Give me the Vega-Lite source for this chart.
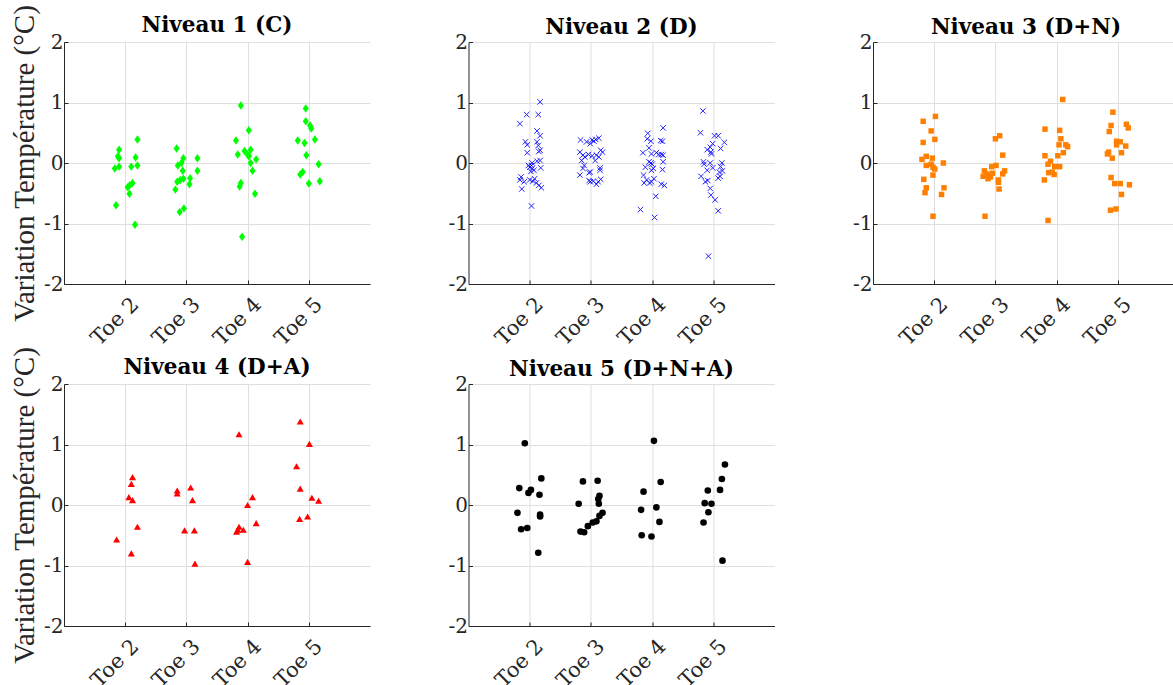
{
  "$schema": "https://vega.github.io/schema/vega-lite/v6.json",
  "padding": {"left": 10, "top": 4, "right": 0, "bottom": 0},
  "background": "white",
  "datasets": {
    "p1": [
      {"x":1.90,"y":0.22},{"x":1.88,"y":0.11},{"x":1.90,"y":0.08},{"x":1.90,"y":-0.06},{"x":1.83,"y":-0.09},{"x":2.20,"y":0.39},{"x":2.17,"y":0.09},{"x":2.10,"y":-0.06},{"x":2.20,"y":-0.04},{"x":2.12,"y":-0.33},{"x":2.07,"y":-0.37},{"x":2.04,"y":-0.40},{"x":2.07,"y":-0.51},{"x":1.85,"y":-0.70},{"x":2.16,"y":-1.02},
      {"x":2.84,"y":0.24},{"x":2.95,"y":0.08},{"x":2.92,"y":0.0},{"x":2.86,"y":-0.04},{"x":2.94,"y":-0.13},{"x":2.90,"y":-0.28},{"x":2.85,"y":-0.31},{"x":2.95,"y":-0.26},{"x":2.82,"y":-0.44},{"x":3.18,"y":0.08},{"x":3.18,"y":-0.13},{"x":3.06,"y":-0.25},{"x":3.05,"y":-0.35},{"x":2.96,"y":-0.75},{"x":2.89,"y":-0.81},
      {"x":3.89,"y":0.95},{"x":4.02,"y":0.54},{"x":3.81,"y":0.37},{"x":3.84,"y":0.14},{"x":3.95,"y":0.20},{"x":4.00,"y":0.14},{"x":4.05,"y":0.22},{"x":4.02,"y":0.11},{"x":4.14,"y":0.06},{"x":4.05,"y":0.0},{"x":4.08,"y":-0.13},{"x":3.89,"y":-0.33},{"x":3.87,"y":-0.39},{"x":4.12,"y":-0.51},{"x":3.91,"y":-1.22},
      {"x":4.95,"y":0.90},{"x":4.95,"y":0.69},{"x":5.02,"y":0.62},{"x":5.04,"y":0.57},{"x":4.82,"y":0.37},{"x":4.93,"y":0.33},{"x":5.10,"y":0.39},{"x":4.96,"y":0.13},{"x":5.16,"y":-0.02},{"x":4.90,"y":-0.15},{"x":4.86,"y":-0.19},{"x":5.00,"y":-0.34},{"x":5.18,"y":-0.30}
    ],
    "p2": [
      {"x":2.17,"y":1.01},{"x":1.95,"y":0.80},{"x":2.14,"y":0.80},{"x":1.84,"y":0.65},{"x":2.12,"y":0.53},{"x":2.17,"y":0.45},{"x":1.93,"y":0.35},{"x":1.96,"y":0.30},{"x":2.12,"y":0.35},{"x":2.14,"y":0.29},{"x":2.17,"y":0.21},{"x":2.15,"y":0.19},{"x":1.96,"y":0.17},{"x":2.17,"y":0.04},{"x":2.12,"y":0.03},{"x":2.04,"y":0.0},{"x":2.03,"y":-0.04},{"x":2.00,"y":-0.07},{"x":2.07,"y":-0.12},{"x":2.18,"y":-0.08},{"x":2.02,"y":-0.14},{"x":2.04,"y":-0.09},{"x":1.86,"y":-0.23},{"x":1.84,"y":-0.28},{"x":1.91,"y":-0.31},{"x":2.00,"y":-0.28},{"x":2.05,"y":-0.30},{"x":2.11,"y":-0.33},{"x":2.15,"y":-0.37},{"x":2.19,"y":-0.41},{"x":1.87,"y":-0.43},{"x":2.03,"y":-0.71},{"x":2.08,"y":-0.26},{"x":1.98,"y":-0.04},
      {"x":2.83,"y":0.38},{"x":2.93,"y":0.35},{"x":3.02,"y":0.38},{"x":3.08,"y":0.39},{"x":3.13,"y":0.41},{"x":2.99,"y":0.32},{"x":3.05,"y":0.36},{"x":2.82,"y":0.18},{"x":2.87,"y":0.13},{"x":2.90,"y":0.10},{"x":2.96,"y":0.14},{"x":3.02,"y":0.12},{"x":3.09,"y":0.13},{"x":3.16,"y":0.21},{"x":3.19,"y":0.18},{"x":3.13,"y":0.10},{"x":2.85,"y":0.04},{"x":2.89,"y":-0.04},{"x":3.07,"y":0.04},{"x":2.87,"y":-0.09},{"x":3.15,"y":-0.08},{"x":3.15,"y":-0.12},{"x":2.82,"y":-0.20},{"x":2.99,"y":-0.15},{"x":2.97,"y":-0.16},{"x":2.99,"y":-0.31},{"x":3.04,"y":-0.30},{"x":3.12,"y":-0.31},{"x":3.16,"y":-0.27},{"x":3.09,"y":-0.35},{"x":2.97,"y":-0.29},
      {"x":4.18,"y":0.58},{"x":3.93,"y":0.49},{"x":3.92,"y":0.40},{"x":3.98,"y":0.36},{"x":4.14,"y":0.37},{"x":4.17,"y":0.36},{"x":3.95,"y":0.25},{"x":3.85,"y":0.17},{"x":3.99,"y":0.15},{"x":4.07,"y":0.17},{"x":4.11,"y":0.14},{"x":4.15,"y":0.14},{"x":4.18,"y":0.13},{"x":4.18,"y":0.02},{"x":3.95,"y":0.02},{"x":3.98,"y":0.0},{"x":4.00,"y":-0.02},{"x":3.89,"y":-0.07},{"x":4.02,"y":-0.09},{"x":3.99,"y":-0.12},{"x":4.17,"y":-0.11},{"x":3.86,"y":-0.20},{"x":4.03,"y":-0.26},{"x":3.91,"y":-0.28},{"x":3.96,"y":-0.33},{"x":3.87,"y":-0.33},{"x":3.99,"y":-0.31},{"x":4.15,"y":-0.35},{"x":4.20,"y":-0.37},{"x":4.06,"y":-0.55},{"x":3.81,"y":-0.77},{"x":4.04,"y":-0.90},
      {"x":4.83,"y":0.86},{"x":4.79,"y":0.50},{"x":5.02,"y":0.45},{"x":5.08,"y":0.45},{"x":5.18,"y":0.34},{"x":4.99,"y":0.32},{"x":4.95,"y":0.26},{"x":4.90,"y":0.22},{"x":4.96,"y":0.18},{"x":5.12,"y":0.24},{"x":4.97,"y":0.15},{"x":4.84,"y":0.02},{"x":4.85,"y":-0.02},{"x":4.95,"y":0.0},{"x":5.14,"y":0.0},{"x":5.12,"y":-0.06},{"x":4.99,"y":-0.08},{"x":4.90,"y":-0.12},{"x":5.10,"y":-0.15},{"x":5.15,"y":-0.13},{"x":4.80,"y":-0.22},{"x":4.91,"y":-0.29},{"x":4.87,"y":-0.31},{"x":5.11,"y":-0.22},{"x":5.08,"y":-0.25},{"x":4.95,"y":-0.42},{"x":4.96,"y":-0.53},{"x":5.03,"y":-0.61},{"x":5.08,"y":-0.79},{"x":4.92,"y":-1.54}
    ],
    "p3": [
      {"x":2.02,"y":0.77},{"x":1.82,"y":0.69},{"x":1.95,"y":0.53},{"x":2.01,"y":0.39},{"x":1.82,"y":0.34},{"x":1.87,"y":0.11},{"x":1.80,"y":0.06},{"x":1.97,"y":0.08},{"x":1.87,"y":-0.04},{"x":1.95,"y":-0.02},{"x":1.98,"y":-0.07},{"x":2.01,"y":-0.10},{"x":2.15,"y":0.0},{"x":1.98,"y":-0.20},{"x":1.83,"y":-0.27},{"x":1.87,"y":-0.41},{"x":1.85,"y":-0.49},{"x":2.16,"y":-0.41},{"x":2.12,"y":-0.52},{"x":1.98,"y":-0.88},
      {"x":3.07,"y":0.45},{"x":3.00,"y":0.40},{"x":3.12,"y":0.13},{"x":2.94,"y":-0.06},{"x":3.01,"y":-0.04},{"x":3.15,"y":-0.13},{"x":3.12,"y":-0.18},{"x":2.82,"y":-0.13},{"x":2.86,"y":-0.18},{"x":2.90,"y":-0.21},{"x":2.80,"y":-0.22},{"x":2.95,"y":-0.17},{"x":2.88,"y":-0.26},{"x":3.05,"y":-0.28},{"x":3.05,"y":-0.32},{"x":3.06,"y":-0.43},{"x":2.83,"y":-0.88},{"x":2.92,"y":-0.23},
      {"x":4.10,"y":1.05},{"x":3.81,"y":0.56},{"x":4.05,"y":0.54},{"x":4.07,"y":0.40},{"x":4.04,"y":0.30},{"x":4.15,"y":0.30},{"x":4.18,"y":0.27},{"x":4.11,"y":0.17},{"x":3.81,"y":0.12},{"x":4.02,"y":0.12},{"x":3.90,"y":0.03},{"x":3.86,"y":-0.02},{"x":3.97,"y":-0.06},{"x":4.05,"y":-0.06},{"x":3.87,"y":-0.16},{"x":3.93,"y":-0.15},{"x":3.96,"y":-0.19},{"x":3.80,"y":-0.28},{"x":3.86,"y":-0.95},
      {"x":4.92,"y":0.84},{"x":5.14,"y":0.64},{"x":5.17,"y":0.58},{"x":4.89,"y":0.62},{"x":4.86,"y":0.52},{"x":4.98,"y":0.36},{"x":5.04,"y":0.35},{"x":4.98,"y":0.30},{"x":5.13,"y":0.28},{"x":4.83,"y":0.15},{"x":4.85,"y":0.18},{"x":5.06,"y":0.17},{"x":4.91,"y":0.08},{"x":4.89,"y":-0.24},{"x":4.95,"y":-0.34},{"x":5.04,"y":-0.34},{"x":5.19,"y":-0.36},{"x":5.06,"y":-0.52},{"x":4.88,"y":-0.78},{"x":4.97,"y":-0.76}
    ],
    "p4": [
      {"x":2.12,"y":0.46},{"x":2.10,"y":0.35},{"x":2.06,"y":0.13},{"x":2.12,"y":0.08},{"x":2.20,"y":-0.36},{"x":1.86,"y":-0.57},{"x":2.10,"y":-0.80},
      {"x":2.85,"y":0.24},{"x":2.85,"y":0.19},{"x":3.07,"y":0.29},{"x":3.10,"y":0.08},{"x":2.97,"y":-0.42},{"x":3.13,"y":-0.42},{"x":3.14,"y":-0.97},
      {"x":3.86,"y":1.17},{"x":4.08,"y":0.13},{"x":4.00,"y":0.0},{"x":4.14,"y":-0.30},{"x":3.86,"y":-0.36},{"x":3.82,"y":-0.44},{"x":3.93,"y":-0.41},{"x":4.00,"y":-0.94},{"x":3.84,"y":-0.41},
      {"x":4.86,"y":1.38},{"x":5.01,"y":1.01},{"x":4.80,"y":0.64},{"x":4.86,"y":0.27},{"x":5.05,"y":0.12},{"x":5.16,"y":0.07},{"x":4.85,"y":-0.23},{"x":4.98,"y":-0.19}
    ],
    "p5": [
      {"x":1.92,"y":1.02},{"x":1.83,"y":0.28},{"x":2.19,"y":0.44},{"x":1.98,"y":0.20},{"x":2.02,"y":0.25},{"x":2.16,"y":0.17},{"x":1.80,"y":-0.13},{"x":2.17,"y":-0.16},{"x":2.17,"y":-0.19},{"x":1.86,"y":-0.40},{"x":1.96,"y":-0.38},{"x":2.14,"y":-0.79},
      {"x":2.87,"y":0.39},{"x":3.11,"y":0.40},{"x":3.14,"y":0.15},{"x":3.12,"y":0.10},{"x":3.13,"y":0.02},{"x":2.80,"y":0.02},{"x":3.19,"y":-0.13},{"x":3.14,"y":-0.18},{"x":3.09,"y":-0.27},{"x":3.03,"y":-0.29},{"x":2.95,"y":-0.35},{"x":2.83,"y":-0.44},{"x":2.89,"y":-0.45},
      {"x":4.03,"y":1.06},{"x":4.14,"y":0.38},{"x":3.86,"y":0.22},{"x":4.07,"y":-0.04},{"x":3.82,"y":-0.08},{"x":4.12,"y":-0.28},{"x":3.83,"y":-0.50},{"x":3.99,"y":-0.52},
      {"x":5.19,"y":0.67},{"x":5.14,"y":0.43},{"x":5.11,"y":0.25},{"x":4.91,"y":0.24},{"x":4.86,"y":0.03},{"x":4.97,"y":0.02},{"x":4.92,"y":-0.12},{"x":4.84,"y":-0.29},{"x":5.15,"y":-0.92}
    ]
  },
  "config": {
    "font": "DejaVu Serif",
    "view": {"stroke": null},
    "axis": {
      "domainColor": "#262626", "domainWidth": 1,
      "labelColor": "#262626", "labelFontSize": 20, "labelFont": "DejaVu Serif",
      "gridColor": "#dfdfdf", "gridWidth": 1,
      "ticks": true, "tickSize": -4, "tickColor": "#262626", "tickWidth": 1,
      "titleFont": "Liberation Serif", "titleFontWeight": "normal", "titleFontSize": 29, "titleColor": "#262626"
    },
    "axisX": {"labelFontSize": 21},
    "title": {"fontSize": 21.5, "fontWeight": "bold", "color": "#000000", "font": "DejaVu Serif", "offset": -6, "baseline": "alphabetic", "anchor": "middle", "frame": "group"}
  },
  "bounds": "flush",
  "columns": 3,
  "spacing": {"row": 100, "column": 98.5},
  "concat": [
    {
      "title": {"text": "Niveau 1 (C)", "offset": -32},
      "width": 306, "height": 242,
      "data": {"name": "p1"},
      "mark": {"type": "point", "shape": "M0,-1L0.72,0L0,1L-0.72,0Z", "filled": true, "color": "#00ff00", "opacity": 1, "size": 72},
      "encoding": {
        "x": {"field": "x", "type": "quantitative", "scale": {"domain": [1, 6], "nice": false, "zero": false}, "axis": {"values": [2, 3, 4, 5], "labelExpr": "'Toe ' + datum.value", "labelAngle": -45, "labelAlign": "right", "labelBaseline": "middle", "labelOffset": 10, "labelPadding": 21, "title": null}},
        "y": {"field": "y", "type": "quantitative", "scale": {"domain": [-2, 2], "nice": false}, "axis": {"values": [-2, -1, 0, 1, 2], "labelExpr": "'' + datum.value", "labelPadding": 5, "title": "Variation Température (°C)", "titlePadding": 4}}
      }
    },
    {
      "title": "Niveau 2 (D)",
      "width": 306, "height": 242,
      "data": {"name": "p2"},
      "mark": {"type": "point", "shape": "M-1,-1L1,1M1,-1L-1,1", "filled": false, "color": "#0000ff", "opacity": 0.85, "strokeWidth": 1, "size": 30},
      "encoding": {
        "x": {"field": "x", "type": "quantitative", "scale": {"domain": [1, 6], "nice": false, "zero": false}, "axis": {"values": [2, 3, 4, 5], "labelExpr": "'Toe ' + datum.value", "labelAngle": -45, "labelAlign": "right", "labelBaseline": "middle", "labelOffset": 10, "labelPadding": 21, "title": null}},
        "y": {"field": "y", "type": "quantitative", "scale": {"domain": [-2, 2], "nice": false}, "axis": {"values": [-2, -1, 0, 1, 2], "labelExpr": "'' + datum.value", "labelPadding": 5, "title": null}}
      }
    },
    {
      "title": "Niveau 3 (D+N)",
      "width": 306, "height": 242,
      "data": {"name": "p3"},
      "mark": {"type": "point", "shape": "square", "filled": true, "color": "#ff8000", "opacity": 1, "size": 30},
      "encoding": {
        "x": {"field": "x", "type": "quantitative", "scale": {"domain": [1, 6], "nice": false, "zero": false}, "axis": {"values": [2, 3, 4, 5], "labelExpr": "'Toe ' + datum.value", "labelAngle": -45, "labelAlign": "right", "labelBaseline": "middle", "labelOffset": 10, "labelPadding": 21, "title": null}},
        "y": {"field": "y", "type": "quantitative", "scale": {"domain": [-2, 2], "nice": false}, "axis": {"values": [-2, -1, 0, 1, 2], "labelExpr": "'' + datum.value", "labelPadding": 5, "title": null}}
      }
    },
    {
      "title": {"text": "Niveau 4 (D+A)", "offset": -32},
      "width": 306, "height": 242,
      "data": {"name": "p4"},
      "mark": {"type": "point", "shape": "triangle-up", "filled": true, "color": "#ff0000", "opacity": 1, "size": 50},
      "encoding": {
        "x": {"field": "x", "type": "quantitative", "scale": {"domain": [1, 6], "nice": false, "zero": false}, "axis": {"values": [2, 3, 4, 5], "labelExpr": "'Toe ' + datum.value", "labelAngle": -45, "labelAlign": "right", "labelBaseline": "middle", "labelOffset": 10, "labelPadding": 21, "title": null}},
        "y": {"field": "y", "type": "quantitative", "scale": {"domain": [-2, 2], "nice": false}, "axis": {"values": [-2, -1, 0, 1, 2], "labelExpr": "'' + datum.value", "labelPadding": 5, "title": "Variation Température (°C)", "titlePadding": 4}}
      }
    },
    {
      "title": "Niveau 5 (D+N+A)",
      "width": 306, "height": 242,
      "data": {"name": "p5"},
      "mark": {"type": "point", "shape": "circle", "filled": true, "color": "#000000", "opacity": 1, "size": 44},
      "encoding": {
        "x": {"field": "x", "type": "quantitative", "scale": {"domain": [1, 6], "nice": false, "zero": false}, "axis": {"values": [2, 3, 4, 5], "labelExpr": "'Toe ' + datum.value", "labelAngle": -45, "labelAlign": "right", "labelBaseline": "middle", "labelOffset": 10, "labelPadding": 21, "title": null}},
        "y": {"field": "y", "type": "quantitative", "scale": {"domain": [-2, 2], "nice": false}, "axis": {"values": [-2, -1, 0, 1, 2], "labelExpr": "'' + datum.value", "labelPadding": 5, "title": null}}
      }
    }
  ]
}
